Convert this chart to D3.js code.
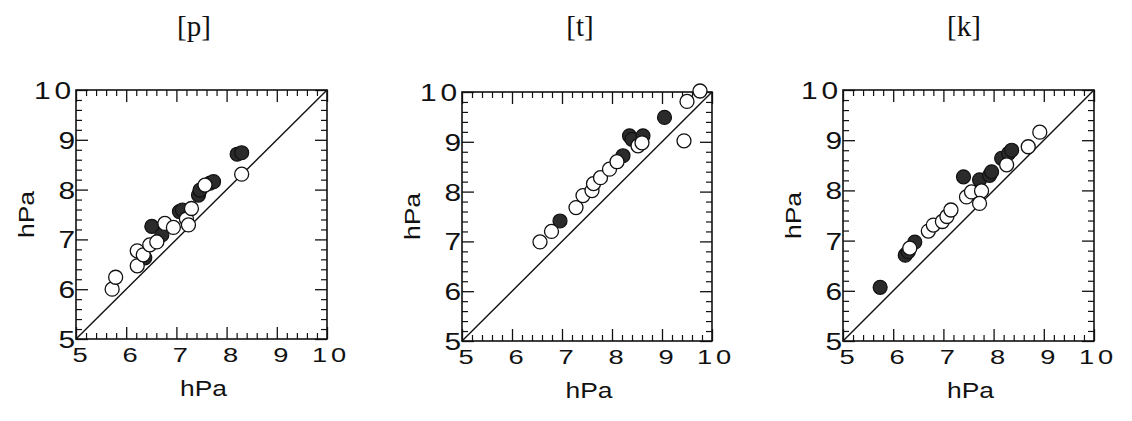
<!DOCTYPE html>
<html>
<head>
<meta charset="utf-8">
<script src="https://cdn.jsdelivr.net/npm/d3@7"></script>
<style>
  html, body { margin: 0; padding: 0; background: #fff; }
  svg { display: block; }
  text { fill: #111; }
</style>
</head>
<body>
<svg id="chart" width="1132" height="421"></svg>
<script>
// ---------------- data ----------------
const panelTitles = ["[p]", "[t]", "[k]"];
const axisTicks = [5, 6, 7, 8, 9, 10];
const axisLabel = "hPa";

// [p]
const pOpenX   = [5.72, 5.79, 6.22, 6.22, 6.34, 6.47, 6.61, 6.77, 6.94, 7.20, 7.24, 7.30, 7.57, 8.30];
const pOpenY   = [6.00, 6.24, 6.47, 6.77, 6.69, 6.89, 6.95, 7.32, 7.24, 7.41, 7.29, 7.62, 8.09, 8.31];
const pFilledX = [6.37, 6.51, 6.71, 7.06, 7.12, 7.44, 7.47, 7.67, 7.74, 8.21, 8.30];
const pFilledY = [6.63, 7.26, 7.09, 7.56, 7.59, 7.89, 7.99, 8.13, 8.16, 8.71, 8.74];

// [t]
const tOpenX   = [6.56, 6.79, 7.28, 7.42, 7.60, 7.63, 7.77, 7.95, 8.10, 8.52, 8.60, 9.44, 9.50, 9.76];
const tOpenY   = [6.99, 7.20, 7.68, 7.92, 8.02, 8.16, 8.28, 8.45, 8.60, 8.92, 8.98, 9.02, 9.81, 10.02];
const tFilledX = [6.96, 8.22, 8.35, 8.40, 8.62, 9.05];
const tFilledY = [7.41, 8.72, 9.12, 9.05, 9.12, 9.49];

// [k]
const kOpenX   = [6.33, 6.70, 6.80, 6.98, 7.07, 7.15, 7.46, 7.56, 7.76, 7.72, 8.26, 8.69, 8.92];
const kOpenY   = [6.85, 7.19, 7.31, 7.38, 7.48, 7.61, 7.87, 7.97, 7.99, 7.74, 8.51, 8.87, 9.16];
const kFilledX = [5.74, 6.24, 6.30, 6.43, 7.40, 7.72, 7.92, 7.96, 8.16, 8.30, 8.36];
const kFilledY = [6.07, 6.71, 6.78, 6.97, 8.27, 8.21, 8.30, 8.37, 8.64, 8.74, 8.80];

const openXs = [pOpenX, tOpenX, kOpenX];
const openYs = [pOpenY, tOpenY, kOpenY];
const filledXs = [pFilledX, tFilledX, kFilledX];
const filledYs = [pFilledY, tFilledY, kFilledY];

// ---------------- layout ----------------
const boxes = [
  { left: 76,  right: 327,  top: 90, bottom: 339, titleX: 194 },
  { left: 462, right: 712,  top: 92, bottom: 341, titleX: 580 },
  { left: 843, right: 1094, top: 90, bottom: 341, titleX: 964 }
];

const svg = d3.select("#chart");
const sansFont = "'Liberation Sans', Arial, Helvetica, sans-serif";
const serifFont = "'Liberation Serif', 'Times New Roman', serif";

function wideText(g, x, y, txt, size, anchor, sx, rotate) {
  const rot = rotate ? ` rotate(${rotate})` : "";
  return g.append("text")
    .attr("transform", `translate(${x},${y})${rot} scale(${sx},1)`)
    .attr("text-anchor", anchor)
    .style("font-family", sansFont)
    .style("font-size", size + "px")
    .style("letter-spacing", txt.length > 1 && /^\d+$/.test(txt) ? "3px" : null)
    .text(txt);
}

boxes.forEach((b, i) => {
  const g = svg.append("g");
  const x = d3.scaleLinear().domain([5, 10]).range([b.left, b.right]);
  const y = d3.scaleLinear().domain([5, 10]).range([b.bottom, b.top]);
  const minor = d3.range(5, 10.001, 0.2).map(v => +v.toFixed(1)).filter(v => !axisTicks.includes(v));

  const majorLen = 12, minorLen = 6;
  const axes = [
    { gen: d3.axisBottom, scale: x, tr: `translate(0,${b.bottom})` },
    { gen: d3.axisTop, scale: x, tr: `translate(0,${b.top})` },
    { gen: d3.axisLeft, scale: y, tr: `translate(${b.left},0)` },
    { gen: d3.axisRight, scale: y, tr: `translate(${b.right},0)` }
  ];
  axes.forEach(a => {
    g.append("g").attr("transform", a.tr)
      .call(a.gen(a.scale).tickValues(axisTicks).tickSize(-majorLen).tickFormat(""))
      .call(s => s.select(".domain").remove())
      .selectAll("line").attr("stroke", "#111").attr("stroke-width", 1.3);
    g.append("g").attr("transform", a.tr)
      .call(a.gen(a.scale).tickValues(minor).tickSize(-minorLen).tickFormat(""))
      .call(s => s.select(".domain").remove())
      .selectAll("line").attr("stroke", "#111").attr("stroke-width", 1.2);
  });

  // frame
  g.append("rect")
    .attr("x", b.left).attr("y", b.top)
    .attr("width", b.right - b.left).attr("height", b.bottom - b.top)
    .attr("fill", "none").attr("stroke", "#111").attr("stroke-width", 1.6);

  // 1:1 line
  g.append("line")
    .attr("x1", x(5)).attr("y1", y(5)).attr("x2", x(10)).attr("y2", y(10))
    .attr("stroke", "#111").attr("stroke-width", 1.4);

  // tick labels
  axisTicks.forEach(v => {
    wideText(g, x(v) + 4, b.bottom + 23, String(v), 21, "middle", 1.3);
    wideText(g, b.left - 1, y(v) + 9, String(v), 23, "end", 1.3);
  });

  // axis titles
  wideText(g, (b.left + b.right) / 2 + 2, b.bottom + 57, axisLabel, 22, "middle", 1.2);
  wideText(g, b.left - 42, (b.top + b.bottom) / 2, axisLabel, 22, "middle", 1.2, -90);

  // panel title
  g.append("text")
    .attr("x", b.titleX).attr("y", 36)
    .attr("text-anchor", "middle")
    .style("font-family", serifFont)
    .style("font-size", "29px")
    .text(panelTitles[i]);

  // points: filled first, open on top
  const filled = filledXs[i].map((v, j) => [v, filledYs[i][j]]);
  const open = openXs[i].map((v, j) => [v, openYs[i][j]]);
  g.append("g").selectAll("circle").data(filled).join("circle")
    .attr("cx", d => x(d[0])).attr("cy", d => y(d[1])).attr("r", 7)
    .attr("fill", "#2b2b2b").attr("stroke", "#111").attr("stroke-width", 1.2);
  g.append("g").selectAll("circle").data(open).join("circle")
    .attr("cx", d => x(d[0])).attr("cy", d => y(d[1])).attr("r", 7)
    .attr("fill", "#fff").attr("stroke", "#111").attr("stroke-width", 1.3);
});
</script>
</body>
</html>
